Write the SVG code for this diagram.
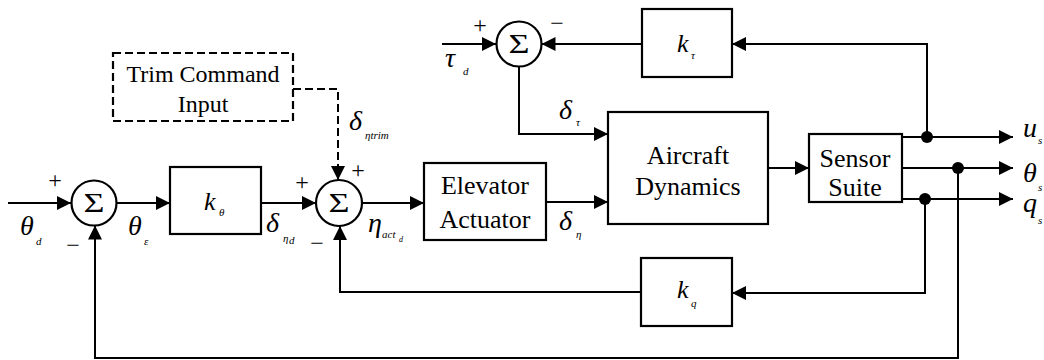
<svg xmlns="http://www.w3.org/2000/svg" width="1044" height="360" viewBox="0 0 1044 360" font-family="Liberation Serif, Times New Roman, Tinos, serif">
<style>
.box{fill:#fff;stroke:#000;stroke-width:2.2}
.dash{fill:#fff;stroke:#000;stroke-width:2.2;stroke-dasharray:8,4}
.ln{fill:none;stroke:#000;stroke-width:2}
.dl{fill:none;stroke:#000;stroke-width:2;stroke-dasharray:8,4}
.t{font-size:26px;text-anchor:middle}
.tt{font-size:24px;text-anchor:middle}
.v{font-style:italic;font-size:28px}
.k{font-style:italic;font-size:26px}
.s{font-style:italic;font-size:11px}
.ss{font-style:italic;font-size:8px}
.sg{font-size:24px;text-anchor:middle}
.sig{font-size:27px;text-anchor:middle}
.dot{fill:#000}
</style>
<defs>
<marker id="ar" markerUnits="userSpaceOnUse" markerWidth="15" markerHeight="14" refX="14" refY="7" orient="auto">
<path d="M0,0 L14,7 L0,14 z" fill="#000"/>
</marker>
</defs>

<g id="connectors">
<path class="ln" d="M8,203 H71" marker-end="url(#ar)"/>
<path class="ln" d="M116.5,203 H170" marker-end="url(#ar)"/>
<path class="ln" d="M261,203 H316" marker-end="url(#ar)"/>
<path class="ln" d="M362,203 H424" marker-end="url(#ar)"/>
<path class="ln" d="M546,202 H608" marker-end="url(#ar)"/>
<path class="ln" d="M768,168 H809" marker-end="url(#ar)"/>
<path class="ln" d="M442,44 H496" marker-end="url(#ar)"/>
<path class="ln" d="M642,44 H541.5" marker-end="url(#ar)"/>
<path class="ln" d="M519,66.5 V134 H608" marker-end="url(#ar)"/>
<path class="dl" d="M293,89 H338 V180" marker-end="url(#ar)"/>
<path class="ln" d="M902,137 H1013" marker-end="url(#ar)"/>
<path class="ln" d="M902,168 H1013" marker-end="url(#ar)"/>
<path class="ln" d="M902,199 H1013" marker-end="url(#ar)"/>
<path class="ln" d="M927,137 V44 H732" marker-end="url(#ar)"/>
<path class="ln" d="M925,199 V293 H732" marker-end="url(#ar)"/>
<path class="ln" d="M641,292 H340 V226" marker-end="url(#ar)"/>
<path class="ln" d="M958,168 V358 H95 V225.5" marker-end="url(#ar)"/>
<circle class="dot" cx="927" cy="137" r="6"/>
<circle class="dot" cx="958" cy="168" r="6"/>
<circle class="dot" cx="925" cy="199" r="6"/>
</g>

<g id="sum1">
<circle class="box" cx="94" cy="203" r="22.5"/>
<text class="sig" x="94" y="212" textLength="21" lengthAdjust="spacingAndGlyphs">Σ</text>
<text class="sg" x="55" y="188">+</text>
<text class="sg" x="73" y="253">−</text>
</g>

<g id="k_theta">
<rect class="box" x="170" y="167" width="91" height="67"/>
<text class="k" x="204" y="210">k</text>
<text class="s" x="219" y="216">θ</text>
</g>

<g id="sum2">
<circle class="box" cx="339" cy="203" r="23"/>
<text class="sig" x="339" y="212" textLength="21" lengthAdjust="spacingAndGlyphs">Σ</text>
<text class="sg" x="302" y="190">+</text>
<text class="sg" x="317" y="251">−</text>
<text class="sg" x="358" y="178">+</text>
</g>

<g id="trim">
<rect class="dash" x="113" y="53" width="180" height="68"/>
<text class="tt" x="203" y="82">Trim Command</text>
<text class="tt" x="203" y="112">Input</text>
</g>

<g id="elevator">
<rect class="box" x="424" y="163" width="122" height="77"/>
<text class="t" x="485" y="194">Elevator</text>
<text class="t" x="485" y="228">Actuator</text>
</g>

<g id="sum3">
<circle class="box" cx="519" cy="44" r="22.5"/>
<text class="sig" x="519" y="53" textLength="21" lengthAdjust="spacingAndGlyphs">Σ</text>
<text class="sg" x="480" y="33">+</text>
<text class="sg" x="557" y="31">−</text>
</g>

<g id="k_tau">
<rect class="box" x="642" y="9" width="90" height="68"/>
<text class="k" x="677" y="52">k</text>
<text class="s" x="691" y="59">τ</text>
</g>

<g id="aircraft">
<rect class="box" x="608" y="112" width="160" height="112"/>
<text class="t" x="688" y="164">Aircraft</text>
<text class="t" x="688" y="195">Dynamics</text>
</g>

<g id="sensor">
<rect class="box" x="809" y="134" width="93" height="68"/>
<text class="t" x="855" y="167">Sensor</text>
<text class="t" x="855" y="196">Suite</text>
</g>

<g id="k_q">
<rect class="box" x="641" y="258" width="91" height="68"/>
<text class="k" x="677" y="298">k</text>
<text class="s" x="691" y="307">q</text>
</g>

<g id="labels">
<text class="v" x="20" y="235">θ</text><text class="s" x="36" y="245">d</text>
<text class="v" x="128" y="235">θ</text><text class="s" x="144" y="245">ε</text>
<text class="v" x="266" y="232">δ</text><text class="s" x="283" y="242">η</text><text class="s" x="289" y="244">d</text>
<text class="v" x="368" y="232">η</text><text class="s" x="382" y="238">act</text><text class="ss" x="399" y="242">d</text>
<text class="v" x="349" y="130">δ</text><text class="s" x="365" y="139">ηtrim</text>
<text class="v" x="445" y="67">τ</text><text class="s" x="463" y="75">d</text>
<text class="v" x="559" y="119">δ</text><text class="s" x="576" y="126">τ</text>
<text class="v" x="559" y="230">δ</text><text class="s" x="576" y="238">η</text>
<text class="v" x="1023" y="137">u</text><text class="s" x="1038" y="144">s</text>
<text class="v" x="1023" y="182">θ</text><text class="s" x="1038" y="191">s</text>
<text class="v" x="1023" y="212">q</text><text class="s" x="1038" y="224">s</text>
</g>
</svg>
